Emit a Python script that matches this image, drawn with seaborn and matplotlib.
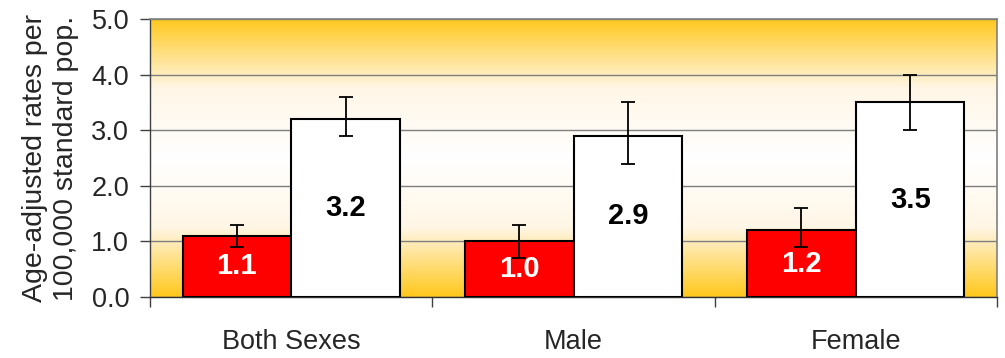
import numpy as np
import pandas as pd
import matplotlib
matplotlib.use("Agg")
import matplotlib.pyplot as plt
import seaborn as sns
from matplotlib.colors import LinearSegmentedColormap

categories = ["Both Sexes", "Male", "Female"]
groups = ["Group 1", "Group 2"]
rates_g1 = [1.1, 1.0, 1.2]
rates_g2 = [3.2, 2.9, 3.5]
lower_g1 = [0.9, 0.7, 0.9]
upper_g1 = [1.3, 1.3, 1.6]
lower_g2 = [2.9, 2.4, 3.0]
upper_g2 = [3.6, 3.5, 4.0]
y_ticks = [0.0, 1.0, 2.0, 3.0, 4.0, 5.0]

df = pd.DataFrame({
    "category": categories * 2,
    "group": [groups[0]] * 3 + [groups[1]] * 3,
    "rate": rates_g1 + rates_g2,
    "lower": lower_g1 + lower_g2,
    "upper": upper_g1 + upper_g2,
})

sns.set_style("white")
plt.rcParams["font.family"] = ["Liberation Sans", "DejaVu Sans"]

fig = plt.figure(figsize=(10.05, 3.58), dpi=100)
ax = fig.add_axes([0.1493, 0.1704, 0.8427, 0.7766])

# gold -> white -> gold vertical background
grad_cmap = LinearSegmentedColormap.from_list(
    "goldband", ["#FFC81C", "#FFF6E6", "#FFFFFF", "#FFF6E6", "#FFC81C"])
grad = np.linspace(0, 1, 256).reshape(-1, 1)
ax.imshow(grad, cmap=grad_cmap, aspect="auto", extent=[0, 1, 0, 1],
          transform=ax.transAxes, zorder=0, interpolation="bicubic")

sns.barplot(data=df, x="category", y="rate", hue="group",
            palette=["#FF0000", "#FFFFFF"], edgecolor="black",
            linewidth=1.5, errorbar=None, width=0.77, ax=ax,
            legend=False, zorder=3, saturation=1)

ax.set_xlim(-0.5, 2.5)
ax.set_ylim(0, 5)
ax.set_yticks(y_ticks)
ax.set_yticklabels([f"{v:.1f}" for v in y_ticks], fontsize=19.5)
ax.yaxis.grid(True, color="#7F7F7F", linewidth=1.0, zorder=1)
ax.set_axisbelow(True)

# category boundaries carry the x ticks
ax.set_xticks([-0.5, 0.5, 1.5, 2.5], minor=False)
ax.set_xticklabels([])
ax.set_xticks([0, 1, 2], minor=True)
ax.set_xticklabels(categories, minor=True, fontsize=19.5)
ax.tick_params(axis="x", which="major", direction="out", length=7,
               width=1.0, color="#404040", bottom=True)
ax.tick_params(axis="x", which="minor", length=0, pad=23)
ax.tick_params(axis="y", direction="out", length=7, width=1.0,
               color="#404040", left=True, pad=8)

ax.set_xlabel("")
ax.set_ylabel("Age-adjusted rates per\n100,000 standard pop.",
              fontsize=20.5, linespacing=1.22, labelpad=9)

for side in ["top", "right"]:
    ax.spines[side].set_visible(True)
    ax.spines[side].set_color("#808080")
    ax.spines[side].set_linewidth(1.2)
ax.spines["left"].set_color("#404040")
ax.spines["bottom"].set_color("#303030")
for side in ["left", "bottom"]:
    ax.spines[side].set_linewidth(1.0)

# bars are drawn group by group, category by category
bars = [p for p in ax.patches if p.get_height() > 0]
rows = df.sort_values(["group"], kind="stable").reset_index(drop=True)
for bar, (_, row) in zip(bars, rows.iterrows()):
    cx = bar.get_x() + bar.get_width() / 2
    h = bar.get_height()
    ax.errorbar(cx, h, yerr=[[h - row["lower"]], [row["upper"] - h]],
                fmt="none", ecolor="black", elinewidth=1.3,
                capsize=5, capthick=1.3, zorder=5)
    is_red = row["group"] == groups[0]
    ax.text(cx, h / 2, f"{row['rate']:.1f}", ha="center", va="center",
            fontsize=21, fontweight="bold",
            color="white" if is_red else "black", zorder=6)

fig.savefig("out.png", dpi=100)
